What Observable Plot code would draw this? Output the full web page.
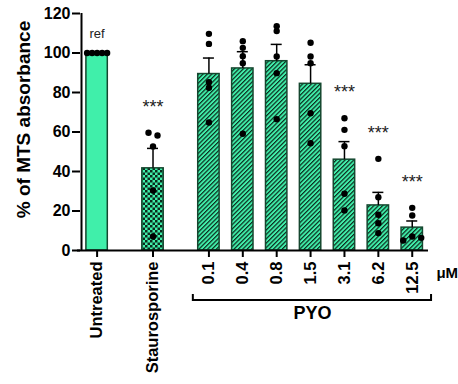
<!DOCTYPE html>
<html><head><meta charset="utf-8">
<script src="https://cdn.jsdelivr.net/npm/d3@7"></script>
<script src="https://cdn.jsdelivr.net/npm/@observablehq/plot@0.6"></script>
<style>
html,body{margin:0;padding:0;background:#fff}
</style></head><body><div id="chart"></div>
<script>
// ---- data ----
const groups = ["Untreated","Staurosporine","0.1","0.4","0.8","1.5","3.1","6.2","12.5"];
const untreated     = [100, 100, 100, 100, 100];
const staurosporine = [59.6, 58.2, 52.7, 30.4, 7.1];
const pyo_0_1  = [109.7, 104.6, 85.2, 82.4, 64.8];
const pyo_0_4  = [106.0, 102.6, 98.4, 94.8, 59.1];
const pyo_0_8  = [113.6, 111.1, 98.2, 89.8, 66.5];
const pyo_1_5  = [105.2, 98.2, 94.8, 69.5, 54.3];
const pyo_3_1  = [67.0, 61.1, 52.8, 28.7, 20.3];
const pyo_6_2  = [46.4, 27.0, 18.1, 13.8, 8.8];
const pyo_12_5 = [21.6, 17.7, 5.1, 7.1, 6.4];
const annotations = ["ref","***","","","","","***","***","***"];
const yTicks = [0, 20, 40, 60, 80, 100, 120];
const yLabel = "% of MTS absorbance";
const pyoLabel = "PYO";
const unitLabel = "\u03bcM";

// ---- layout ----
const replicates = [untreated, staurosporine, pyo_0_1, pyo_0_4, pyo_0_8, pyo_1_5, pyo_3_1, pyo_6_2, pyo_12_5];
const W = 458, H = 384, mL = 80, mR = 30, mT = 13, mB = 134;
const groupGap = 1.65;
const xPos = groups.map((g, i) => i < 2 ? i * groupGap : 2 * groupGap + (i - 2));
const xDomain = [-0.49, xPos[xPos.length - 1] + 0.48];
const pxPerX = (W - mL - mR) / (xDomain[1] - xDomain[0]);
const pxPerY = (H - mT - mB) / 120;
const halfW = 10.7 / pxPerX;
const capW = 5.5 / pxPerX;
const green = "#40efaa";
const edge = "#15472f";

const bars = groups.map((g, i) => {
  const v = replicates[i];
  return {group: g, x: xPos[i], mean: d3.mean(v), sem: d3.deviation(v) / Math.sqrt(v.length),
          max: d3.max(v), kind: i === 0 ? "solid" : i === 1 ? "checker" : "hatch", note: annotations[i]};
});

// dots: spread overlapping values side by side
const dots = [];
const dotD = 4.6 / pxPerY;
groups.forEach((g, i) => {
  const vals = replicates[i].map((v, k) => ({v, k}));
  const sorted = vals.slice().sort((a, b) => a.v - b.v);
  const clusters = [];
  sorted.forEach(p => {
    const c = clusters[clusters.length - 1];
    if (c && p.v - c[c.length - 1].v < dotD) c.push(p); else clusters.push([p]);
  });
  clusters.forEach(c => {
    c.sort((a, b) => a.k - b.k);
    const n = c.length;
    const step = n > 1 ? Math.min(9, 20 / (n - 1)) : 0;
    c.forEach((p, j) => dots.push({group: g, v: p.v, x: xPos[i] + ((j - (n - 1) / 2) * step) / pxPerX}));
  });
});

const labelOf = new Map(xPos.map((p, i) => [p, groups[i]]));
const bracketL = xPos[2] - 0.46, bracketR = xPos[xPos.length - 1] + 0.57;

const font = "Liberation Sans, Arial, Helvetica, sans-serif";

const plot = Plot.plot({
  width: W, height: H,
  marginLeft: mL, marginRight: mR, marginTop: mT, marginBottom: mB,
  style: {fontFamily: font, background: "#fff", color: "#000", overflow: "visible"},
  x: {type: "linear", domain: xDomain, axis: null},
  y: {domain: [0, 120], axis: null},
  marks: [
    Plot.rectY(bars.filter(d => d.kind === "solid"), {x1: d => d.x - halfW, x2: d => d.x + halfW, y: "mean", fill: green, stroke: edge, strokeWidth: 1.5}),
    Plot.rectY(bars.filter(d => d.kind === "checker"), {x1: d => d.x - halfW, x2: d => d.x + halfW, y: "mean", fill: "url(#checker)", stroke: edge, strokeWidth: 1.5}),
    Plot.rectY(bars.filter(d => d.kind === "hatch"), {x1: d => d.x - halfW, x2: d => d.x + halfW, y: "mean", fill: "url(#hatch)", stroke: edge, strokeWidth: 1.5}),
    Plot.ruleX(bars.filter(d => d.sem > 0), {x: "x", y1: "mean", y2: d => d.mean + d.sem, stroke: "#000", strokeWidth: 1.5}),
    Plot.ruleY(bars.filter(d => d.sem > 0), {y: d => d.mean + d.sem, x1: d => d.x - capW, x2: d => d.x + capW, stroke: "#000", strokeWidth: 1.5}),
    Plot.dot(dots, {x: "x", y: "v", r: 3.2, fill: "#000", stroke: "none"}),
    Plot.text(bars.filter(d => d.note === "***"), {x: "x", y: "max", text: "note", dy: -26, fontSize: 18, fill: "#222"}),
    Plot.text(bars.filter(d => d.note === "ref"), {x: "x", y: "max", text: "note", dy: -19, fontSize: 13, fill: "#222"}),
    // axes
    Plot.ruleX([xDomain[0]], {y1: 0, y2: 120, strokeWidth: 2, dx: 1}),
    Plot.ruleY([0], {strokeWidth: 2, insetLeft: -3}),
    Plot.axisY({ticks: yTicks, tickSize: 8, tickPadding: 2, strokeWidth: 2, fontSize: 16, fontWeight: "bold", label: null}),
    Plot.axisX({ticks: xPos, tickFormat: d => labelOf.get(d), tickSize: 7, tickPadding: 4, strokeWidth: 2,
                tickRotate: -90, fontSize: 16.5, fontWeight: "bold", label: null}),
    Plot.text([yLabel], {frameAnchor: "left", textAnchor: "middle", rotate: -90, dx: -57, dy: -12.5, fontSize: 19, fontWeight: "bold"}),
    Plot.text([pyoLabel], {x: [(bracketL + bracketR) / 2], y: [0], dy: 63, fontSize: 18, fontWeight: "bold"}),
    Plot.text([unitLabel], {x: [xPos[xPos.length - 1]], y: [0], dx: 35, dy: 23, fontSize: 15, fontWeight: "bold"}),
    (index, scales) => {
      const xl = scales.x(bracketL), xr = scales.x(bracketR), y0 = scales.y(0) + 50;
      return d3.create("svg:path")
        .attr("d", `M${xl},${y0 - 6}V${y0}H${xr}V${y0 - 6}`)
        .attr("fill", "none").attr("stroke", "#000").attr("stroke-width", 2).node();
    }
  ]
});

d3.select(plot).insert("defs", ":first-child").html(`
  <pattern id="checker" width="5" height="5" patternUnits="userSpaceOnUse">
    <rect width="5" height="5" fill="${green}"/>
    <rect width="2.5" height="2.5" fill="#0c2a1d"/>
    <rect x="2.5" y="2.5" width="2.5" height="2.5" fill="#0c2a1d"/>
  </pattern>
  <pattern id="hatch" width="3.1" height="3.1" patternUnits="userSpaceOnUse" patternTransform="rotate(45)">
    <rect width="3.1" height="3.1" fill="${green}"/>
    <line x1="0.6" y1="0" x2="0.6" y2="3.1" stroke="#0c2a1d" stroke-width="1.2"/>
  </pattern>`);

document.getElementById("chart").appendChild(plot);
</script>
</body></html>
